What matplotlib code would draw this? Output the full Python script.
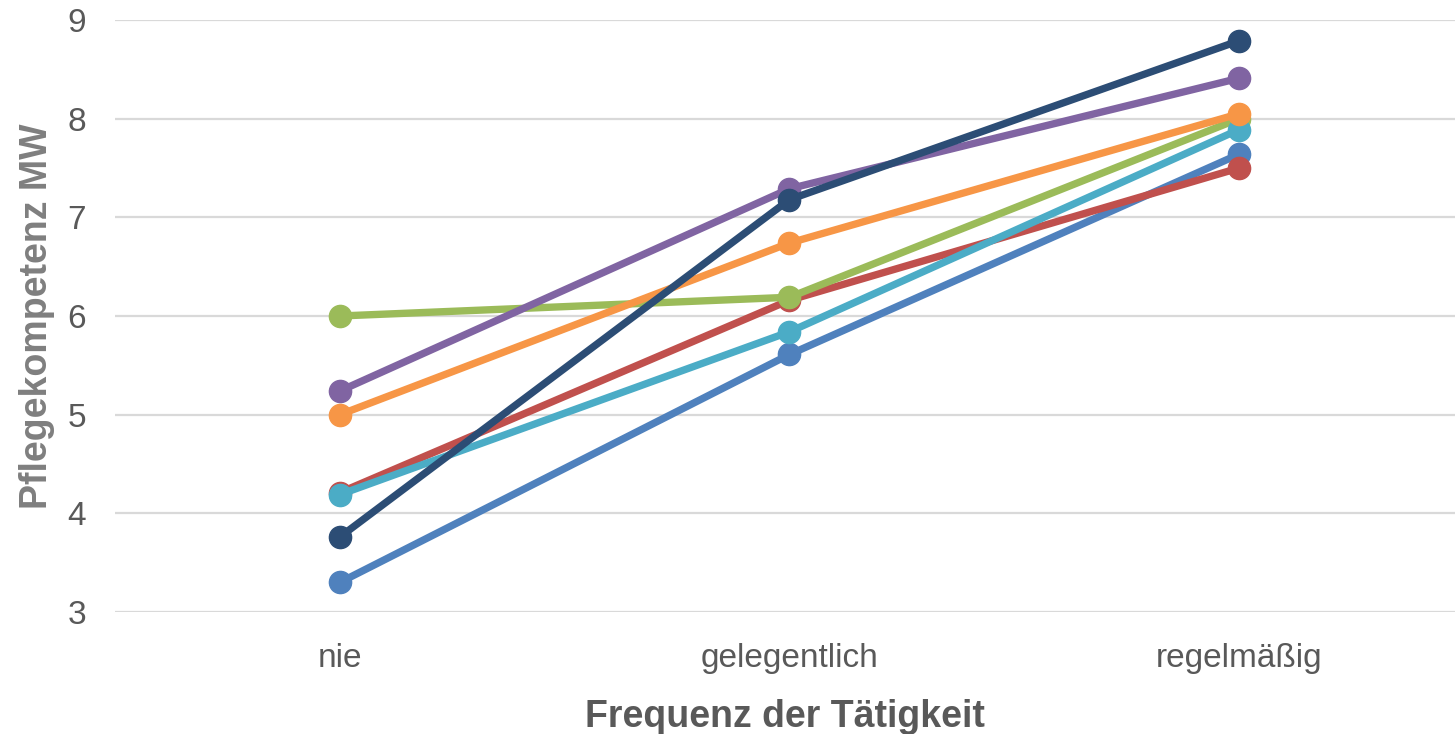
import matplotlib
matplotlib.use("Agg")
import matplotlib.pyplot as plt

categories = ["nie", "gelegentlich", "regelmäßig"]
series_blue = [3.30, 5.61, 7.64]
series_red = [4.21, 6.16, 7.50]
series_green = [6.00, 6.19, 8.00]
series_purple = [5.24, 7.29, 8.41]
series_teal = [4.19, 5.84, 7.89]
series_orange = [5.00, 6.74, 8.05]
series_navy = [3.76, 7.18, 8.79]

colors = ["#4F81BD", "#C0504D", "#9BBB59", "#8064A2", "#4BACC6", "#F79646", "#2C4D75"]
all_series = [series_blue, series_red, series_green, series_purple,
              series_teal, series_orange, series_navy]

plt.rcParams['font.family'] = ['Liberation Sans', 'DejaVu Sans']

fig = plt.figure(figsize=(14.55, 7.34), dpi=100)
ax = fig.add_axes([115/1455, 1-612/734, 1-115/1455, (612-20)/734])

x = list(range(len(categories)))
for vals, c in zip(all_series, colors):
    ax.plot(x, vals, color=c, lw=5.3, marker='o', markersize=16,
            solid_capstyle='round', zorder=3, clip_on=False)

ax.set_ylim(3, 9)
ax.set_xlim(-0.5, 2.48)
ax.set_yticks(range(3, 10))
ax.set_xticks(x)
ax.set_xticklabels(categories)
ax.yaxis.grid(True, color="#D9D9D9", lw=1.6)
ax.set_axisbelow(True)
for s in ax.spines.values():
    s.set_visible(False)
ax.tick_params(axis='both', length=0, labelsize=24, labelcolor="#595959")
ax.tick_params(axis='y', pad=21)
ax.tick_params(axis='x', pad=22)

ax.set_xlabel("Frequenz der Tätigkeit", fontsize=27, fontweight='bold',
              color="#595959", labelpad=18)
ax.set_ylabel("Pflegekompetenz MW", fontsize=27, fontweight='bold',
              color="#7F7F7F", labelpad=9)

fig.savefig("out.png", dpi=100)
